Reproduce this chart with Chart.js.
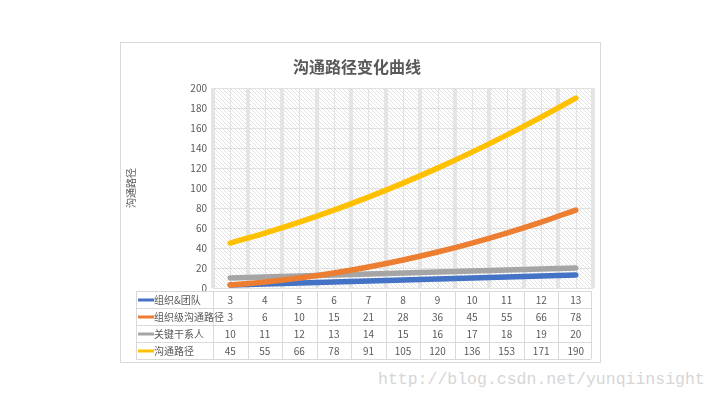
<!DOCTYPE html>
<html>
<head>
<meta charset="utf-8">
<script src="https://cdn.jsdelivr.net/npm/chart.js@4/dist/chart.umd.min.js"></script>
<style>
  html, body { margin: 0; padding: 0; background: #fff; }
  body { width: 720px; height: 405px; position: relative; overflow: hidden; }
  #frame { position: absolute; left: 120px; top: 42px; width: 479px; height: 319px; border: 1px solid #d9d9d9; }
  #frame canvas { display: block; }
  #mark { position: absolute; left: 378px; top: 370px; font: 16.5px "Liberation Mono", monospace; color: #d6d6d6; white-space: nowrap; }
</style>
</head>
<body>
<div id="frame"><canvas id="c" width="479" height="319"></canvas></div>
<div id="mark">http://blog.csdn.net/yunqiinsight</div>
<script>
'use strict';

// ── Data ───────────────────────────────────────────────────────────────────
const CATEGORIES  = ['1', '2', '3', '4', '5', '6', '7', '8', '9', '10', '11'];
const SERIES_NAMES = ['组织&团队', '组织级沟通路径', '关键干系人', '沟通路径'];
const TEAM        = [3, 4, 5, 6, 7, 8, 9, 10, 11, 12, 13];
const ORG_PATHS   = [3, 6, 10, 15, 21, 28, 36, 45, 55, 66, 78];
const STAKEHOLDER = [10, 11, 12, 13, 14, 15, 16, 17, 18, 19, 20];
const COMM_PATHS  = [45, 55, 66, 78, 91, 105, 120, 136, 153, 171, 190];
const Y_TICKS     = [0, 20, 40, 60, 80, 100, 120, 140, 160, 180, 200];

const COLORS = ['#4472c4', '#ed7d31', '#a5a5a5', '#ffc000'];
const SERIES = [TEAM, ORG_PATHS, STAKEHOLDER, COMM_PATHS];
const DRAW_ORDER = [3, 0, 2, 1];   // lower = on top

const FONT = '"Microsoft YaHei", "Noto Sans CJK SC", sans-serif';
const TEXT = '#595959';

// ── Helpers ────────────────────────────────────────────────────────────────
function hatchPattern(ctx) {
  const p = document.createElement('canvas');
  p.width = 4; p.height = 4;
  const g = p.getContext('2d');
  g.fillStyle = '#ffffff';
  g.fillRect(0, 0, 4, 4);
  g.strokeStyle = '#e2e2e2';
  g.lineWidth = 1;
  g.beginPath();
  g.moveTo(0, 0); g.lineTo(4, 4);
  g.moveTo(-1, 3); g.lineTo(1, 5);
  g.moveTo(3, -1); g.lineTo(5, 1);
  g.stroke();
  return ctx.createPattern(p, 'repeat');
}

// plot background + thin centre lines
const plotBackground = {
  id: 'plotBackground',
  beforeDraw(chart) {
    const { ctx, chartArea: a, scales } = chart;
    ctx.save();
    ctx.fillStyle = hatchPattern(ctx);
    ctx.fillRect(a.left, a.top, a.right - a.left, a.bottom - a.top);
    ctx.strokeStyle = '#e3e3e3';
    ctx.lineWidth = 1;
    CATEGORIES.forEach((c, i) => {
      const x = Math.round(scales.x.getPixelForValue(i)) + 0.5;
      ctx.beginPath();
      ctx.moveTo(x, a.top);
      ctx.lineTo(x, a.bottom);
      ctx.stroke();
    });
    ctx.restore();
  }
};

// data table under the plot
const dataTable = {
  id: 'dataTable',
  afterDraw(chart) {
    const { ctx, chartArea: a, scales } = chart;
    const x = scales.x;
    const top = a.bottom + 3, rowH = 17;
    const left = 15, right = a.right - 2;
    const bottom = top + rowH * SERIES.length;
    ctx.save();
    ctx.strokeStyle = '#d9d9d9';
    ctx.lineWidth = 1;
    ctx.beginPath();
    for (let r = 0; r <= SERIES.length; r++) {
      const y = Math.round(top + r * rowH) + 0.5;
      ctx.moveTo(left, y); ctx.lineTo(right, y);
    }
    const cols = [left, a.left];
    CATEGORIES.forEach((c, i) => {
      cols.push(x.getPixelForValue(i) + (x.getPixelForValue(1) - x.getPixelForValue(0)) / 2);
    });
    cols[cols.length - 1] = right;
    cols.forEach(cx => {
      const xx = Math.round(cx) + 0.5;
      ctx.moveTo(xx, top); ctx.lineTo(xx, bottom);
    });
    ctx.stroke();

    ctx.font = '10px ' + FONT;
    ctx.textBaseline = 'middle';
    SERIES.forEach((vals, r) => {
      const cy = top + r * rowH + rowH / 2 + 0.5;
      ctx.strokeStyle = COLORS[r];
      ctx.lineWidth = 3;
      ctx.beginPath();
      ctx.moveTo(left + 2, cy); ctx.lineTo(left + 18, cy);
      ctx.stroke();
      ctx.fillStyle = TEXT;
      ctx.textAlign = 'left';
      ctx.fillText(SERIES_NAMES[r], left + 18, cy);
      ctx.textAlign = 'center';
      vals.forEach((v, i) => ctx.fillText(String(v), x.getPixelForValue(i), cy));
    });
    ctx.restore();
  }
};

// ── Chart ──────────────────────────────────────────────────────────────────
new Chart(document.getElementById('c'), {
  type: 'line',
  data: {
    labels: CATEGORIES,
    datasets: SERIES.map((vals, i) => ({
      label: SERIES_NAMES[i],
      data: vals,
      borderColor: COLORS[i],
      borderWidth: 5.5,
      pointRadius: 0,
      tension: 0.4,
      borderCapStyle: 'round',
      order: DRAW_ORDER[i],
      fill: false,
    }))
  },
  options: {
    responsive: false,
    animation: false,
    layout: { padding: { left: 0, right: 7, top: 0, bottom: 74 } },
    plugins: {
      legend: { display: false },
      tooltip: { enabled: false },
      title: {
        display: true,
        text: '沟通路径变化曲线',
        color: TEXT,
        font: { family: FONT, size: 16, weight: 'bold' },
        padding: { top: 14, bottom: 12 }
      }
    },
    scales: {
      x: {
        offset: true,
        ticks: { display: false },
        border: { display: false },
        grid: { offset: true, color: '#e4e4e4', lineWidth: 4, drawTicks: false }
      },
      y: {
        min: 0,
        max: 200,
        afterBuildTicks(s) { s.ticks = Y_TICKS.map(v => ({ value: v })); },
        afterFit(s) { s.width = 92; },
        ticks: { color: TEXT, font: { family: FONT, size: 10 }, padding: 6 },
        border: { display: false },
        grid: { color: '#e0e0e0', lineWidth: 1, drawTicks: false },
        title: {
          display: true,
          text: '沟通路径',
          color: TEXT,
          font: { family: FONT, size: 10 },
          padding: { top: 4, bottom: 0 }
        }
      }
    }
  },
  plugins: [plotBackground, dataTable]
});
</script>
</body>
</html>
